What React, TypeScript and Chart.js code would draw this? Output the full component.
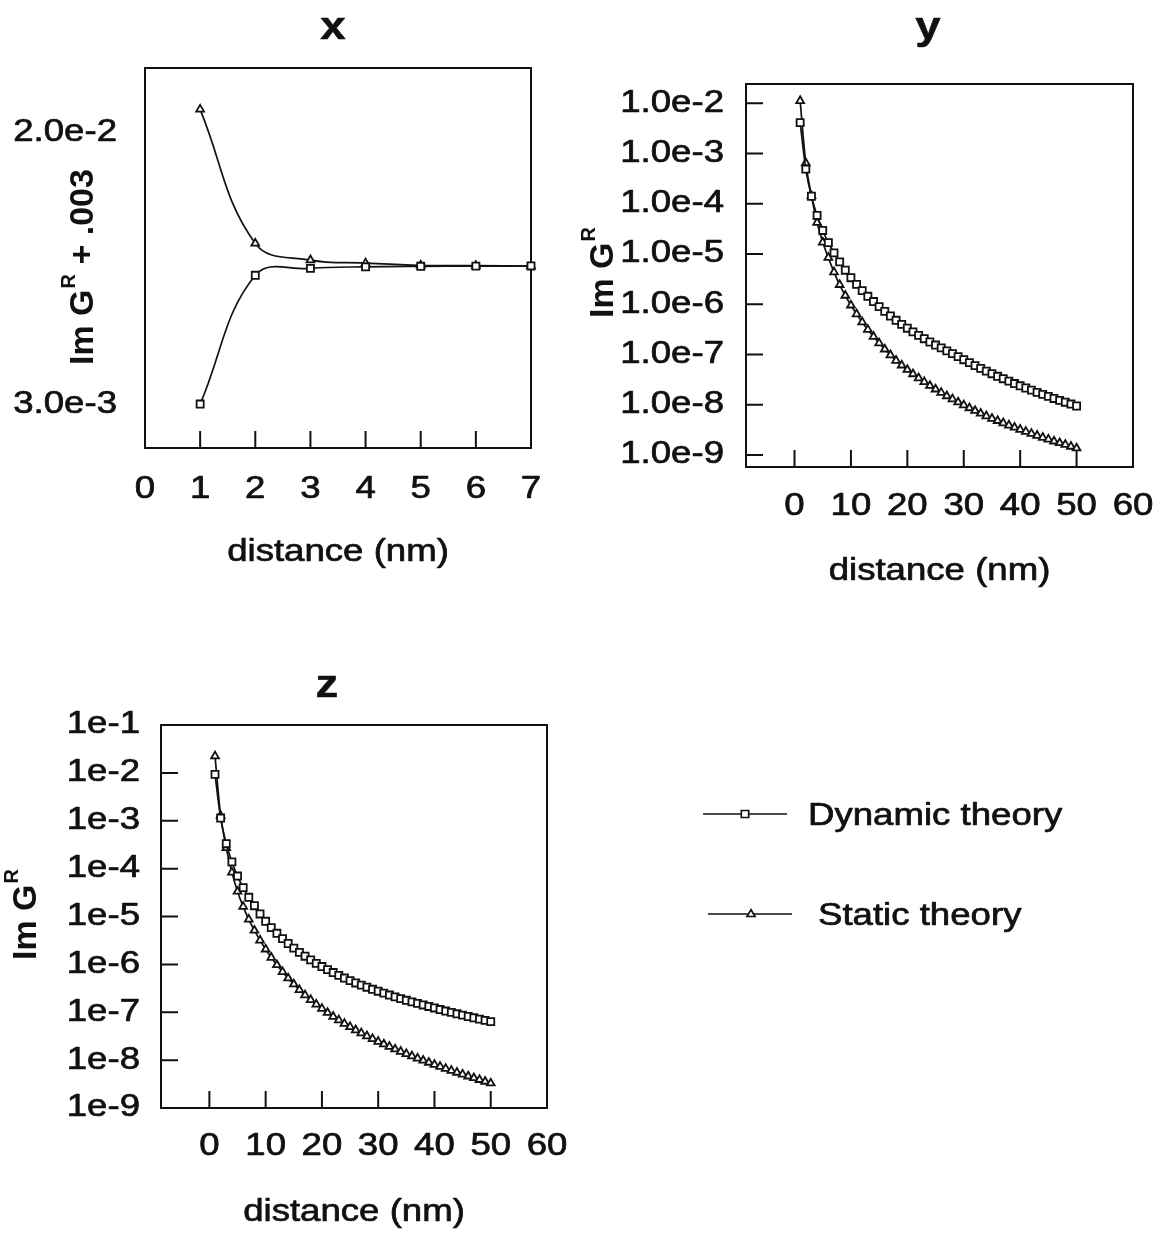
import React, { useEffect, useRef } from 'react';
import { Chart, registerables } from 'chart.js';

Chart.register(...registerables);

const FONT = '"Liberation Sans", Arial, Helvetica, sans-serif';
const INK = '#111111';
const SX = 1.2;
const LABEL_PX = 30.5;
const TICK = 17;

// ---------- data ----------
const X_DIST = [1, 2, 3, 4, 5, 6, 7];
const X_DYNAMIC = [0.00306, 0.0111, 0.01153, 0.01163, 0.01166, 0.01167, 0.01168];
const X_STATIC = [0.02146, 0.01309, 0.01205, 0.01186, 0.01172, 0.0117, 0.01168];

const DIST_50 = [
  1, 2, 3, 4, 5, 6, 7, 8, 9, 10, 11, 12, 13, 14, 15, 16, 17, 18, 19, 20, 21, 22, 23, 24, 25,
  26, 27, 28, 29, 30, 31, 32, 33, 34, 35, 36, 37, 38, 39, 40, 41, 42, 43, 44, 45, 46, 47, 48, 49, 50,
];

const Y_DYNAMIC = [
  4.12e-3, 4.91e-4, 1.41e-4, 5.85e-5, 2.94e-5, 1.68e-5, 1.05e-5, 6.97e-6, 4.75e-6, 3.37e-6,
  2.48e-6, 1.87e-6, 1.44e-6, 1.13e-6, 8.97e-7, 7.19e-7, 5.83e-7, 4.79e-7, 3.97e-7, 3.33e-7,
  2.81e-7, 2.4e-7, 2.06e-7, 1.77e-7, 1.54e-7, 1.35e-7, 1.18e-7, 1.04e-7, 9.04e-8, 7.85e-8,
  6.86e-8, 6.01e-8, 5.28e-8, 4.67e-8, 4.14e-8, 3.68e-8, 3.29e-8, 2.94e-8, 2.64e-8, 2.38e-8,
  2.15e-8, 1.95e-8, 1.76e-8, 1.6e-8, 1.46e-8, 1.33e-8, 1.22e-8, 1.12e-8, 1.03e-8, 9.42e-9,
];
const Y_STATIC = [
  1.12e-2, 6.46e-4, 1.43e-4, 4.22e-5, 1.71e-5, 8.45e-6, 4.36e-6, 2.44e-6, 1.49e-6, 9.55e-7,
  6.37e-7, 4.4e-7, 3.12e-7, 2.27e-7, 1.68e-7, 1.27e-7, 9.73e-8, 7.57e-8, 6.1e-8, 4.97e-8,
  4.08e-8, 3.39e-8, 2.84e-8, 2.39e-8, 2.03e-8, 1.74e-8, 1.49e-8, 1.29e-8, 1.12e-8, 9.82e-9,
  8.59e-9, 7.59e-9, 6.7e-9, 5.94e-9, 5.3e-9, 4.79e-9, 4.31e-9, 3.89e-9, 3.52e-9, 3.2e-9,
  2.91e-9, 2.65e-9, 2.43e-9, 2.22e-9, 2.04e-9, 1.87e-9, 1.73e-9, 1.6e-9, 1.47e-9, 1.36e-9,
];
const Z_DYNAMIC = [
  9.33e-3, 1.14e-3, 3.31e-4, 1.38e-4, 7.0e-5, 4.02e-5, 2.52e-5, 1.68e-5, 1.13e-5, 7.94e-6,
  5.87e-6, 4.46e-6, 3.46e-6, 2.73e-6, 2.19e-6, 1.78e-6, 1.48e-6, 1.24e-6, 1.05e-6, 9.02e-7,
  7.78e-7, 6.75e-7, 5.89e-7, 5.18e-7, 4.57e-7, 4.09e-7, 3.69e-7, 3.33e-7, 3.02e-7, 2.75e-7,
  2.51e-7, 2.29e-7, 2.1e-7, 1.93e-7, 1.78e-7, 1.65e-7, 1.53e-7, 1.42e-7, 1.32e-7, 1.23e-7,
  1.14e-7, 1.06e-7, 9.93e-8, 9.29e-8, 8.69e-8, 8.15e-8, 7.66e-8, 7.19e-8, 6.78e-8, 6.38e-8,
];
const Z_STATIC = [
  2.24e-2, 1.28e-3, 2.7e-4, 8.36e-5, 3.34e-5, 1.61e-5, 8.71e-6, 5.11e-6, 3.18e-6, 2.07e-6,
  1.39e-6, 9.73e-7, 6.98e-7, 5.14e-7, 3.85e-7, 2.94e-7, 2.28e-7, 1.82e-7, 1.46e-7, 1.19e-7,
  9.79e-8, 8.13e-8, 6.84e-8, 5.79e-8, 4.94e-8, 4.25e-8, 3.66e-8, 3.18e-8, 2.78e-8, 2.44e-8,
  2.15e-8, 1.91e-8, 1.69e-8, 1.51e-8, 1.35e-8, 1.21e-8, 1.09e-8, 9.84e-9, 8.91e-9, 8.07e-9,
  7.31e-9, 6.64e-9, 6.04e-9, 5.51e-9, 5.04e-9, 4.61e-9, 4.24e-9, 3.89e-9, 3.58e-9, 3.3e-9,
];

// ---------- ticks ----------
const XP_XTICK_VALUES = [0, 1, 2, 3, 4, 5, 6, 7];
const XP_XTICK_LABELS = ['0', '1', '2', '3', '4', '5', '6', '7'];
const XP_XMARKS = [1, 2, 3, 4, 5, 6, 7];
const XP_YTICK_VALUES = [0.02, 0.003];
const XP_YTICK_LABELS = ['2.0e-2', '3.0e-3'];

const LOG_XTICK_VALUES = [0, 10, 20, 30, 40, 50, 60];
const LOG_XTICK_LABELS = ['0', '10', '20', '30', '40', '50', '60'];
const LOG_XMARKS = [0, 10, 20, 30, 40, 50];

const YP_YTICK_VALUES = [1e-2, 1e-3, 1e-4, 1e-5, 1e-6, 1e-7, 1e-8, 1e-9];
const YP_YTICK_LABELS = ['1.0e-2', '1.0e-3', '1.0e-4', '1.0e-5', '1.0e-6', '1.0e-7', '1.0e-8', '1.0e-9'];
const YP_YMARKS = [1e-2, 1e-3, 1e-4, 1e-5, 1e-6, 1e-7, 1e-8, 1e-9];

const ZP_YTICK_VALUES = [1e-1, 1e-2, 1e-3, 1e-4, 1e-5, 1e-6, 1e-7, 1e-8, 1e-9];
const ZP_YTICK_LABELS = ['1e-1', '1e-2', '1e-3', '1e-4', '1e-5', '1e-6', '1e-7', '1e-8', '1e-9'];
const ZP_YMARKS = [1e-2, 1e-3, 1e-4, 1e-5, 1e-6, 1e-7, 1e-8];

const SERIES_NAMES = ['Dynamic theory', 'Static theory'];

// ---------- layout ----------
type Box = { left: number; top: number; width: number; height: number };
type Area = { left: number; top: number; right: number; bottom: number };
type PanelCfg = {
  key: string;
  canvas: Box;
  area: Area;
  xMin: number; xMax: number; yMin: number; yMax: number;
  yType: 'linear' | 'logarithmic';
  xTickValues: number[]; xTickLabels: string[]; xMarks: number[];
  yTickValues: number[]; yTickLabels: string[]; yMarks: number[];
  xLabelY: number; yLabelRight: number;
  title: string; titleX: number; titleBase: number;
  yTitle: { main: string; sup: string; rest: string; baseX: number; startY: number };
  xTitleY: number;
  tension: number;
  xs: number[]; dyn: number[]; stat: number[];
  legend: boolean;
};

const PANELS: PanelCfg[] = [
  {
    key: 'x',
    canvas: { left: 0, top: 0, width: 577, height: 620 },
    area: { left: 145, top: 68, right: 531, bottom: 448 },
    xMin: 0, xMax: 7, yMin: 0.000316, yMax: 0.02404, yType: 'linear',
    xTickValues: XP_XTICK_VALUES, xTickLabels: XP_XTICK_LABELS, xMarks: XP_XMARKS,
    yTickValues: XP_YTICK_VALUES, yTickLabels: XP_YTICK_LABELS, yMarks: [],
    xLabelY: 490, yLabelRight: 117,
    title: 'x', titleX: 333, titleBase: 39,
    yTitle: { main: 'Im G', sup: 'R', rest: ' + .003', baseX: 93, startY: 365 },
    xTitleY: 553,
    tension: 0.4,
    xs: X_DIST, dyn: X_DYNAMIC, stat: X_STATIC,
    legend: false,
  },
  {
    key: 'y',
    canvas: { left: 577, top: 0, width: 578, height: 620 },
    area: { left: 746, top: 84, right: 1133, bottom: 467 },
    xMin: -8.6, xMax: 60, yMin: 5.75e-10, yMax: 0.0242, yType: 'logarithmic',
    xTickValues: LOG_XTICK_VALUES, xTickLabels: LOG_XTICK_LABELS, xMarks: LOG_XMARKS,
    yTickValues: YP_YTICK_VALUES, yTickLabels: YP_YTICK_LABELS, yMarks: YP_YMARKS,
    xLabelY: 507, yLabelRight: 724,
    title: 'y', titleX: 928, titleBase: 39,
    yTitle: { main: 'Im G', sup: 'R', rest: '', baseX: 613, startY: 318 },
    xTitleY: 572,
    tension: 0.3,
    xs: DIST_50, dyn: Y_DYNAMIC, stat: Y_STATIC,
    legend: false,
  },
  {
    key: 'z',
    canvas: { left: 0, top: 620, width: 1155, height: 613 },
    area: { left: 161, top: 725, right: 547, bottom: 1108 },
    xMin: -8.6, xMax: 60, yMin: 1e-9, yMax: 1e-1, yType: 'logarithmic',
    xTickValues: LOG_XTICK_VALUES, xTickLabels: LOG_XTICK_LABELS, xMarks: LOG_XMARKS,
    yTickValues: ZP_YTICK_VALUES, yTickLabels: ZP_YTICK_LABELS, yMarks: ZP_YMARKS,
    xLabelY: 1147, yLabelRight: 140,
    title: 'z', titleX: 327, titleBase: 697,
    yTitle: { main: 'Im G', sup: 'R', rest: '', baseX: 36, startY: 960 },
    xTitleY: 1213,
    tension: 0.3,
    xs: DIST_50, dyn: Z_DYNAMIC, stat: Z_STATIC,
    legend: true,
  },
];

function sText(
  ctx: CanvasRenderingContext2D, text: string, x: number, y: number,
  align: CanvasTextAlign, baseline: CanvasTextBaseline, font: string, sx = SX, heavy = 0.7,
) {
  ctx.save();
  ctx.font = font;
  ctx.fillStyle = INK;
  ctx.strokeStyle = INK;
  ctx.lineWidth = heavy;
  ctx.lineJoin = 'round';
  ctx.textAlign = align;
  ctx.textBaseline = baseline;
  ctx.translate(x, y);
  ctx.scale(sx, 1);
  ctx.fillText(text, 0, 0);
  if (heavy > 0) ctx.strokeText(text, 0, 0);
  ctx.restore();
}

function makeDecor(cfg: PanelCfg) {
  const ox = cfg.canvas.left;
  const oy = cfg.canvas.top;
  return {
    id: 'decor_' + cfg.key,
    beforeDatasetsDraw(chart: any) {
      const { ctx, chartArea: a } = chart;
      const xs = chart.scales.x;
      const ys = chart.scales.y;
      ctx.save();
      ctx.strokeStyle = INK;
      ctx.lineWidth = 2;
      ctx.strokeRect(a.left, a.top, a.right - a.left, a.bottom - a.top);
      ctx.beginPath();
      for (const v of cfg.xMarks) {
        const px = xs.getPixelForValue(v);
        ctx.moveTo(px, a.bottom);
        ctx.lineTo(px, a.bottom - TICK);
      }
      for (const v of cfg.yMarks) {
        const py = ys.getPixelForValue(v);
        ctx.moveTo(a.left, py);
        ctx.lineTo(a.left + TICK, py);
      }
      ctx.stroke();
      ctx.restore();
    },
    afterDraw(chart: any) {
      const { ctx, chartArea: a } = chart;
      const xs = chart.scales.x;
      const ys = chart.scales.y;
      const lf = `${LABEL_PX}px ${FONT}`;
      cfg.xTickValues.forEach((v, i) => {
        sText(ctx, cfg.xTickLabels[i], xs.getPixelForValue(v), cfg.xLabelY - oy, 'center', 'middle', lf);
      });
      cfg.yTickValues.forEach((v, i) => {
        sText(ctx, cfg.yTickLabels[i], cfg.yLabelRight - ox, ys.getPixelForValue(v), 'right', 'middle', lf);
      });
      sText(ctx, 'distance (nm)', (a.left + a.right) / 2, cfg.xTitleY - oy, 'center', 'middle', lf);
      sText(ctx, cfg.title, cfg.titleX - ox, cfg.titleBase - oy, 'center', 'alphabetic', `bold 38px ${FONT}`, SX, 0.5);

      // rotated y-axis title with superscript
      const F = 34;
      const t = cfg.yTitle;
      ctx.save();
      ctx.fillStyle = INK;
      ctx.translate(t.baseX - ox, t.startY - oy);
      ctx.rotate(-Math.PI / 2);
      ctx.textAlign = 'left';
      ctx.textBaseline = 'alphabetic';
      ctx.font = `bold ${F}px ${FONT}`;
      ctx.fillText(t.main, 0, 0);
      let w = ctx.measureText(t.main).width + 1;
      ctx.font = `bold ${Math.round(F * 0.6)}px ${FONT}`;
      ctx.fillText(t.sup, w, -F * 0.52);
      w += ctx.measureText(t.sup).width;
      if (t.rest) {
        ctx.font = `bold ${F}px ${FONT}`;
        ctx.fillText(t.rest, w, 0);
      }
      ctx.restore();

      if (cfg.legend) {
        const items = [
          { name: SERIES_NAMES[0], x1: 703, x2: 787, y: 814, mx: 745, tx: 808, ty: 817, shape: 'rect' },
          { name: SERIES_NAMES[1], x1: 708, x2: 792, y: 914, mx: 751, tx: 818, ty: 917, shape: 'triangle' },
        ];
        for (const it of items) {
          ctx.save();
          ctx.strokeStyle = INK;
          ctx.lineWidth = 1.6;
          ctx.beginPath();
          ctx.moveTo(it.x1 - ox, it.y - oy);
          ctx.lineTo(it.x2 - ox, it.y - oy);
          ctx.stroke();
          ctx.fillStyle = '#ffffff';
          ctx.lineWidth = 1.7;
          ctx.beginPath();
          const cx = it.mx - ox;
          const cy = it.y - oy;
          if (it.shape === 'rect') {
            ctx.rect(cx - 3.7, cy - 3.5, 7.4, 7);
          } else {
            ctx.moveTo(cx, cy - 4.4);
            ctx.lineTo(cx + 4, cy + 2.5);
            ctx.lineTo(cx - 4, cy + 2.5);
            ctx.closePath();
          }
          ctx.fill();
          ctx.stroke();
          ctx.restore();
          sText(ctx, it.name, it.tx - ox, it.ty - oy, 'left', 'middle', lf);
        }
      }
    },
  };
}

function buildConfig(cfg: PanelCfg): any {
  const padding = {
    left: cfg.area.left - cfg.canvas.left,
    top: cfg.area.top - cfg.canvas.top,
    right: cfg.canvas.left + cfg.canvas.width - cfg.area.right,
    bottom: cfg.canvas.top + cfg.canvas.height - cfg.area.bottom,
  };
  const mk = (label: string, ys: number[], shape: string, r: number) => ({
    label,
    data: cfg.xs.map((x, i) => ({ x, y: ys[i] })),
    borderColor: INK,
    borderWidth: 1.7,
    pointStyle: shape,
    pointRadius: r,
    pointBackgroundColor: '#ffffff',
    pointBorderColor: INK,
    pointBorderWidth: 1.8,
    tension: cfg.tension,
    fill: false,
    clip: false,
  });
  const hidden = {
    display: true,
    bounds: 'data',
    grid: { display: false, drawTicks: false },
    border: { display: false },
    ticks: { display: false },
    title: { display: false },
  };
  return {
    type: 'line',
    data: {
      datasets: [
        mk(SERIES_NAMES[0], cfg.dyn, 'rect', 5),
        mk(SERIES_NAMES[1], cfg.stat, 'triangle', 4.5),
      ],
    },
    options: {
      responsive: false,
      animation: false,
      devicePixelRatio: 1,
      events: [],
      layout: { padding },
      plugins: { legend: { display: false }, tooltip: { enabled: false }, title: { display: false } },
      scales: {
        x: {
          ...hidden,
          type: 'linear',
          min: cfg.xMin,
          max: cfg.xMax,
          afterDataLimits: (s: any) => { s.min = cfg.xMin; s.max = cfg.xMax; },
          afterFit: (s: any) => { s.height = 0; },
        },
        y: {
          ...hidden,
          type: cfg.yType,
          min: cfg.yMin,
          max: cfg.yMax,
          afterDataLimits: (s: any) => { s.min = cfg.yMin; s.max = cfg.yMax; },
          afterFit: (s: any) => { s.width = 0; },
        },
      },
    },
    plugins: [makeDecor(cfg)],
  };
}

function Panel({ cfg }: { cfg: PanelCfg }) {
  const ref = useRef<HTMLCanvasElement>(null);
  useEffect(() => {
    if (!ref.current) return;
    const chart = new Chart(ref.current, buildConfig(cfg));
    return () => chart.destroy();
  }, [cfg]);
  return (
    <canvas
      ref={ref}
      width={cfg.canvas.width}
      height={cfg.canvas.height}
      style={{
        position: 'absolute',
        left: cfg.canvas.left,
        top: cfg.canvas.top,
        width: cfg.canvas.width,
        height: cfg.canvas.height,
      }}
    />
  );
}

export default function App() {
  return (
    <div
      style={{
        position: 'absolute',
        left: 0,
        top: 0,
        width: 1155,
        height: 1233,
        background: '#ffffff',
        overflow: 'hidden',
      }}
    >
      {PANELS.map((p) => (
        <Panel key={p.key} cfg={p} />
      ))}
    </div>
  );
}
